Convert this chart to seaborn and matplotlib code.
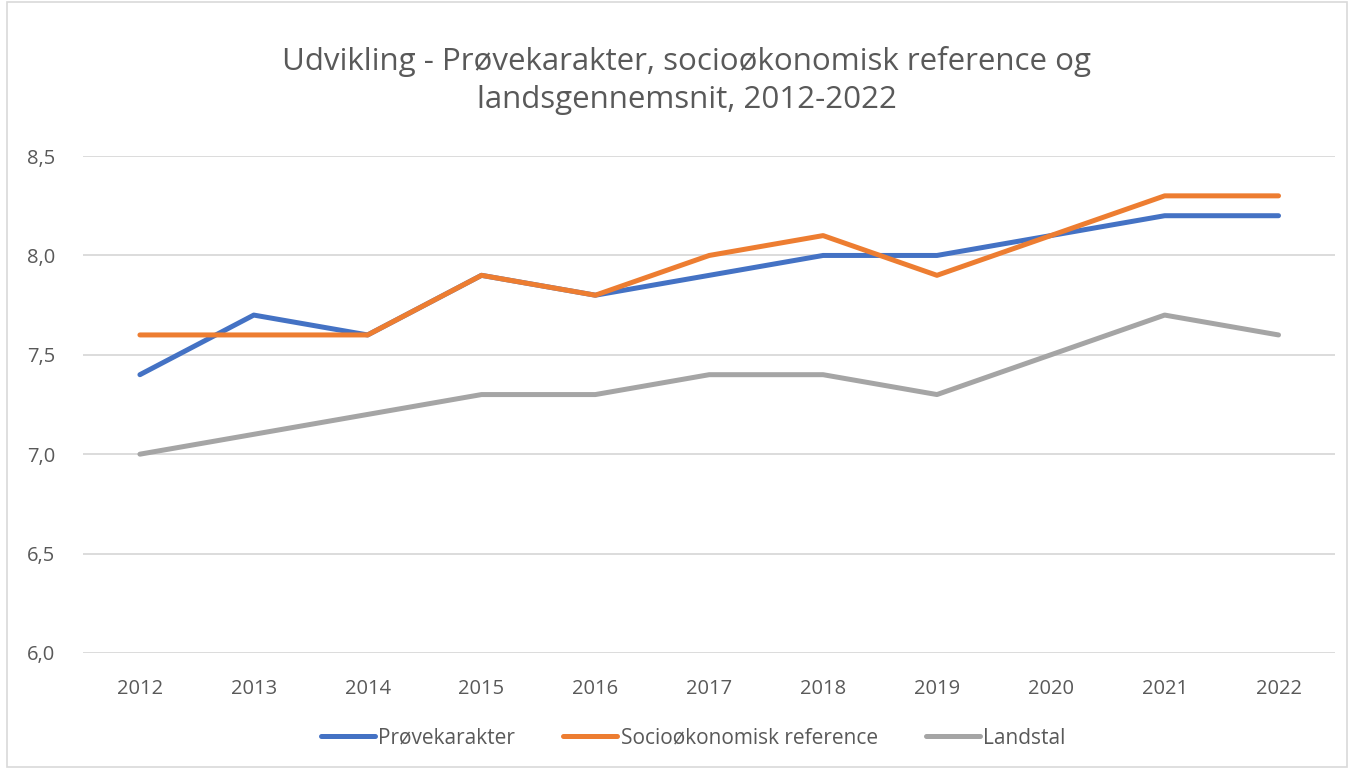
"""
Udvikling - prøvekarakter, socioøkonomisk reference og landsgennemsnit 2012-2022.
"""

import matplotlib.pyplot as plt
import pandas as pd
import seaborn as sns
from matplotlib.patches import Rectangle
from matplotlib.ticker import FuncFormatter

years = [2012, 2013, 2014, 2015, 2016, 2017, 2018, 2019, 2020, 2021, 2022]
proevekarakter = [7.4, 7.7, 7.6, 7.9, 7.8, 7.9, 8.0, 8.0, 8.1, 8.2, 8.2]
socio_reference = [7.6, 7.6, 7.6, 7.9, 7.8, 8.0, 8.1, 7.9, 8.1, 8.3, 8.3]
landstal = [7.0, 7.1, 7.2, 7.3, 7.3, 7.4, 7.4, 7.3, 7.5, 7.7, 7.6]

series_names = ["Prøvekarakter", "Socioøkonomisk reference", "Landstal"]
colors = ["#4472C4", "#ED7D31", "#A5A5A5"]

df = pd.concat(
    [
        pd.DataFrame({"år": years, "karakter": vals, "serie": name})
        for name, vals in zip(series_names, [proevekarakter, socio_reference, landstal])
    ],
    ignore_index=True,
)

sns.set_theme(style="white")
plt.rcParams["font.family"] = ["Open Sans", "DejaVu Sans"]

text_col = "#595959"
fig = plt.figure(figsize=(13.54, 7.69), dpi=100)
ax = fig.add_axes([0.0613, 0.151, 0.925, 0.646])

sns.lineplot(
    data=df, x="år", y="karakter", hue="serie", hue_order=series_names,
    palette=colors, linewidth=3.6, ax=ax, legend=False,
    solid_capstyle="round", solid_joinstyle="round",
)

ax.set_xlim(2011.5, 2022.5)
ax.set_ylim(6.0, 8.5)
ax.set_xticks(years)
ax.set_yticks([6.0, 6.5, 7.0, 7.5, 8.0, 8.5])
ax.yaxis.set_major_formatter(FuncFormatter(lambda v, _: f"{v:.1f}".replace(".", ",")))
ax.grid(axis="y", color="#D9D9D9", linewidth=1.3)
ax.set_axisbelow(True)
for s in ax.spines.values():
    s.set_visible(False)
ax.tick_params(axis="both", length=0, labelsize=14.5, colors=text_col)
ax.tick_params(axis="x", pad=19)
ax.tick_params(axis="y", pad=20)
ax.set_xlabel("")
ax.set_ylabel("")

fig.text(0.507, 0.895, "Udvikling - Prøvekarakter, socioøkonomisk reference og\nlandsgennemsnit, 2012-2022",
         ha="center", va="center", fontsize=22.5, color=text_col, linespacing=1.35)

handles = [plt.Line2D([], [], color=c, linewidth=3.6, solid_capstyle="round") for c in colors]
fig.legend(handles, series_names, loc="center", bbox_to_anchor=(0.512, 0.04), ncol=3,
           frameon=False, fontsize=15, labelcolor=text_col, handlelength=2.6,
           handletextpad=0.15, columnspacing=2.3)

fig.patches.append(Rectangle((0.005, 0.003), 0.99, 0.994, transform=fig.transFigure,
                             fill=False, edgecolor="#D9D9D9", linewidth=1.2))

fig.savefig("out.png", dpi=100)
